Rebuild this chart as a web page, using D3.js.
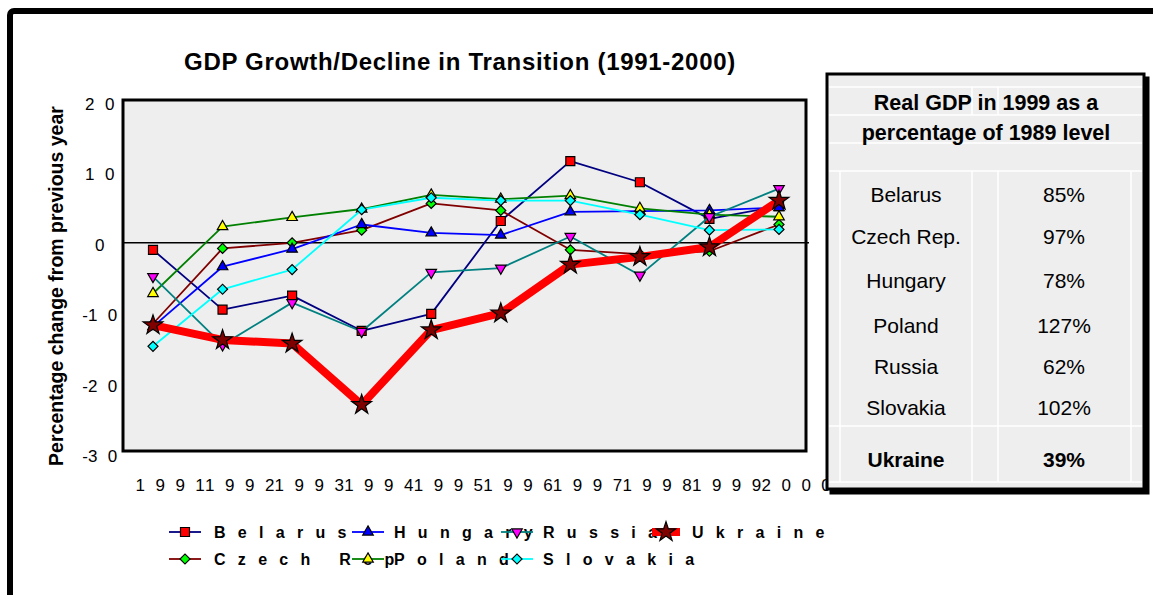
<!DOCTYPE html>
<html><head><meta charset="utf-8">
<script src="https://cdn.jsdelivr.net/npm/d3@7"></script>
<style>
body{margin:0;background:#fff;}
svg{display:block;font-family:"Liberation Sans",Arial,sans-serif;}
</style>
</head><body>
<svg id="c" width="1153" height="595"></svg>
<script>
// ---------- data ----------
const years = ["1991","1992","1993","1994","1995","1996","1997","1998","1999","2000"];
const countries = ["Belarus","Czech Rep","Hungary","Poland","Russia","Slovakia","Ukraine"];
const belarus  = [-1.0, -9.5, -7.5, -12.5, -10.1, 3.1, 11.6, 8.6, 3.4, 5.2];
const czech    = [-11.5, -0.8, 0.0, 1.8, 5.6, 4.6, -1.0, -1.6, -1.2, 2.6];
const hungary  = [-11.9, -3.4, -0.9, 2.6, 1.4, 1.1, 4.4, 4.5, 4.6, 5.0];
const poland   = [-7.2, 2.3, 3.6, 4.8, 6.8, 6.2, 6.7, 4.9, 4.0, 3.7];
const russia   = [-4.8, -14.5, -8.5, -12.6, -4.2, -3.6, 0.9, -4.6, 3.7, 7.7];
const slovakia = [-14.7, -6.6, -3.8, 4.7, 6.4, 6.0, 6.0, 4.0, 1.8, 1.9];
const ukraine  = [-11.7, -13.8, -14.3, -23.0, -12.4, -10.0, -3.1, -2.0, -0.6, 6.0];
const yTicks = [20, 10, 0, -10, -20, -30];
const tableNames  = ["Belarus","Czech Rep.","Hungary","Poland","Russia","Slovakia","Ukraine"];
const tableValues = ["85%","97%","78%","127%","62%","102%","39%"];
const titleText = "GDP Growth/Decline in Transition (1991-2000)";
const yTitle = "Percentage change from previous year";
const tableTitle = ["Real GDP in 1999 as a", "percentage of 1989 level"];

const seriesValues = [belarus, czech, hungary, poland, russia, slovakia, ukraine];

// ---------- styles ----------
const sq = d3.symbolSquare, tri = d3.symbolTriangle, star = d3.symbolStar;
const styles = [
  {line:"#000080", fill:"#FF0000", sym:sq,  size:81, rot:0,   w:1.8},
  {line:"#800000", fill:"#00FF00", sym:sq,  size:50, rot:45,  w:1.8},
  {line:"#0000FF", fill:"#0000FF", sym:tri, size:48, rot:0,   w:1.8},
  {line:"#008000", fill:"#FFFF00", sym:tri, size:48, rot:0,   w:1.8},
  {line:"#008080", fill:"#FF00FF", sym:tri, size:48, rot:180, w:1.8},
  {line:"#00FFFF", fill:"#00FFFF", sym:sq,  size:50, rot:45,  w:1.8},
  {line:"#FF0000", fill:"#800000", sym:star,size:120,rot:0,   w:8}
];

const svg = d3.select("#c");
const P = {l:123, r:806, t:100, b:451};
const x = d3.scalePoint().domain(years).range([P.l + 30, P.r - 27]);
const y = d3.scaleLinear().domain([-30, 20]).range([454, 102]);

// outer frame
svg.append("rect").attr("x",10).attr("y",11).attr("width",1400).attr("height",900)
  .attr("rx",4).attr("fill","none").attr("stroke","#000").attr("stroke-width",6);

// title
svg.append("text").attr("x",460).attr("y",70).attr("text-anchor","middle")
  .style("font-size","24px").style("font-weight","bold").style("letter-spacing","0.7px")
  .text(titleText);

// plot area
svg.append("rect").attr("x",P.l).attr("y",P.t).attr("width",P.r-P.l).attr("height",P.b-P.t)
  .attr("fill","#EEEEEE").attr("stroke","#000").attr("stroke-width",3);

// zero line
svg.append("line").attr("x1",P.l).attr("x2",P.r+3).attr("y1",y(0)).attr("y2",y(0))
  .attr("stroke","#000").attr("stroke-width",1.5);

// series
const line = d3.line().x((d,i)=>x(years[i])).y(d=>y(d));
seriesValues.forEach((vals, si) => {
  const st = styles[si];
  const g = svg.append("g");
  g.append("path").datum(vals).attr("d", line).attr("fill","none")
    .attr("stroke", st.line).attr("stroke-width", st.w).attr("stroke-linejoin","round");
  g.selectAll("path.m").data(vals).join("path").attr("class","m")
    .attr("d", d3.symbol().type(st.sym).size(st.size)())
    .attr("transform",(d,i)=>`translate(${x(years[i])},${y(d)}) rotate(${st.rot})`)
    .attr("fill", st.fill).attr("stroke","#000").attr("stroke-width",1.2);
});

// x axis labels
const xAx = svg.append("g").attr("transform","translate(0,491)")
  .call(d3.axisBottom(x).tickSize(0).tickPadding(0));
xAx.select(".domain").remove();
xAx.selectAll("text").attr("y",0).attr("dy",0).attr("x",-18).attr("text-anchor","start")
  .style("font-size","17px").style("letter-spacing","10.5px").attr("fill","#000")
  .style("font-family","'Liberation Sans',Arial,sans-serif");

// y axis labels (minus sign kept tight to the first digit)
const yAx = svg.append("g")
  .call(d3.axisLeft(y).tickValues(yTicks).tickFormat(d=>String(d)).tickSize(0).tickPadding(0));
yAx.select(".domain").remove();
yAx.selectAll("text").each(function(d){
  const s = String(d), t = d3.select(this);
  t.text(null).attr("x",105).attr("y",2).attr("text-anchor","middle")
    .style("font-size","17px").attr("fill","#000")
    .style("font-family","'Liberation Sans',Arial,sans-serif");
  if (s[0] === "-") {
    t.append("tspan").style("letter-spacing","0px").text("-");
    t.append("tspan").style("letter-spacing","10.5px").text(s.slice(1));
  } else {
    t.append("tspan").style("letter-spacing","10.5px").text(s);
  }
});

// y title
svg.append("text").attr("transform","translate(63,286) rotate(-90)").attr("text-anchor","middle")
  .style("font-size","19.5px").style("font-weight","bold").text(yTitle);

// legend
const colMarker = [185, 368, 517, 666];
const colText = [214, 394, 543, 692];
const rowY = [532, 559];
countries.forEach((name, i) => {
  const c = Math.floor(i/2), r = i % 2, st = styles[i];
  const cx = colMarker[c], cy = rowY[r];
  const half = st.w > 4 ? 14 : 16;
  svg.append("line").attr("x1",cx-half).attr("x2",cx+half).attr("y1",cy).attr("y2",cy)
    .attr("stroke",st.line).attr("stroke-width",st.w);
  svg.append("path").attr("d", d3.symbol().type(st.sym).size(st.size)())
    .attr("transform",`translate(${cx},${cy}) rotate(${st.rot})`)
    .attr("fill",st.fill).attr("stroke","#000").attr("stroke-width",1.2);
  svg.append("text").attr("x",colText[c]).attr("y",cy+6)
    .style("font-size","16px").style("font-weight","bold").style("letter-spacing","12.3px")
    .text(name);
});

// table
const T = {l:827, t:74, r:1144, b:489};
svg.append("rect").attr("x",T.l+4).attr("y",T.t+4).attr("width",T.r-T.l).attr("height",T.b-T.t)
  .attr("fill","#000").attr("stroke","#000").attr("stroke-width",3);
svg.append("rect").attr("x",T.l).attr("y",T.t).attr("width",T.r-T.l).attr("height",T.b-T.t)
  .attr("fill","#EEEEEE").attr("stroke","#000").attr("stroke-width",3);
const tg = svg.append("g").attr("stroke","#fff").attr("stroke-width",1.5);
[87,115,143,171,426,482].forEach(v => tg.append("line").attr("x1",T.l+2).attr("x2",T.r-2).attr("y1",v).attr("y2",v));
[840,972,998,1131].forEach(v => tg.append("line").attr("x1",v).attr("x2",v).attr("y1",171).attr("y2",482));
[972,998].forEach(v => tg.append("line").attr("x1",v).attr("x2",v).attr("y1",87).attr("y2",115));

tableTitle.forEach((t,i) => {
  svg.append("text").attr("x",986).attr("y",110 + i*30).attr("text-anchor","middle")
    .style("font-size","21.5px").style("font-weight","bold").text(t);
});
const rowCenters = [194,236,280,325,366,407,459];
tableNames.forEach((n,i) => {
  const bold = i === tableNames.length - 1;
  svg.append("text").attr("x",906).attr("y",rowCenters[i]+7.5).attr("text-anchor","middle")
    .style("font-size","21px").style("font-weight", bold ? "bold" : "normal").text(n);
  svg.append("text").attr("x",1064).attr("y",rowCenters[i]+7.5).attr("text-anchor","middle")
    .style("font-size","21px").style("font-weight", bold ? "bold" : "normal").text(tableValues[i]);
});
</script>
</body></html>
